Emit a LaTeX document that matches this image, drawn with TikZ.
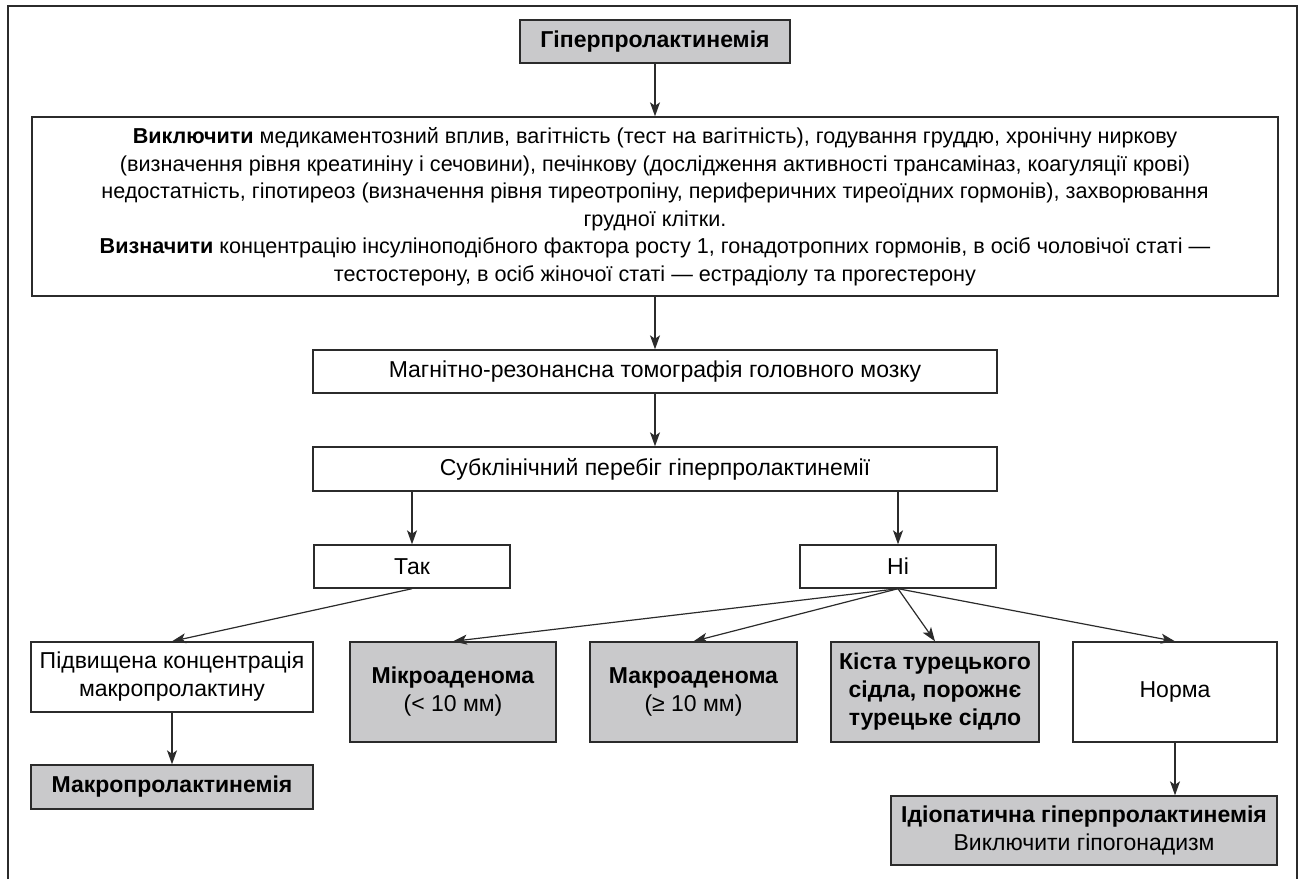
\documentclass[tikz,border=0pt]{standalone}
\usepackage{fontspec}
\setmainfont{Liberation Sans}
\usetikzlibrary{arrows.meta}
\definecolor{linec}{HTML}{2B2B2B}
\definecolor{boxgray}{HTML}{C9C9CB}
\begin{document}
\begin{tikzpicture}[x=1pt,y=1pt,
  box/.style={draw=linec, line width=1.4pt, fill=white, align=center, inner sep=0pt,
    font=\fontsize{23}{28}\selectfont},
  gbox/.style={box, fill=boxgray},
  arr/.style={draw=linec, line width=1.2pt, -{Stealth[length=14pt,width=10pt,inset=3.5pt]}},
  frame/.style={draw=linec, line width=2pt}]
\useasboundingbox (0,0) rectangle (1303,-879);
\draw[frame] (8,-879) -- (8,-6) -- (1297,-6) -- (1297,-879);

\node[gbox, minimum width=270pt, minimum height=43pt] (top) at (655,-41.5) {\textbf{Гіперпролактинемія}};
\node[box, minimum width=1246pt, minimum height=179pt, font=\fontsize{21.6}{27.5}\selectfont] (big) at (655,-206.5)
 {\textbf{Виключити} медикаментозний вплив, вагітність (тест на вагітність), годування груддю, хронічну ниркову\\
 (визначення рівня креатиніну і сечовини), печінкову (дослідження активності трансаміназ, коагуляції крові)\\
 недостатність, гіпотиреоз (визначення рівня тиреотропіну, периферичних тиреоїдних гормонів), захворювання\\
 грудної клітки.\\
 \textbf{Визначити} концентрацію інсуліноподібного фактора росту 1, гонадотропних гормонів, в осіб чоловічої статі —\\
 тестостерону, в осіб жіночої статі — естрадіолу та прогестерону};
\node[box, minimum width=684pt, minimum height=43pt] (mri) at (655,-371.5) {Магнітно-резонансна томографія головного мозку};
\node[box, minimum width=684pt, minimum height=44pt] (sub) at (655,-469) {Субклінічний перебіг гіперпролактинемії};
\node[box, minimum width=196pt, minimum height=43pt] (tak) at (412,-566.5) {Так};
\node[box, minimum width=196pt, minimum height=43pt] (ni) at (898,-566.5) {Ні};
\node[box, minimum width=282pt, minimum height=70pt] (pidv) at (172,-677) {Підвищена концентрація\\макропролактину};
\node[gbox, minimum width=206pt, minimum height=100pt] (micro) at (453,-692) {\textbf{Мікроаденома}\\(< 10 мм)};
\node[gbox, minimum width=207pt, minimum height=100pt] (macro) at (693.5,-692) {\textbf{Макроаденома}\\(≥ 10 мм)};
\node[gbox, minimum width=208pt, minimum height=100pt] (kista) at (935,-692) {\textbf{Кіста турецького}\\\textbf{сідла, порожнє}\\\textbf{турецьке сідло}};
\node[box, minimum width=204pt, minimum height=100pt] (norma) at (1175,-692) {Норма};
\node[gbox, minimum width=282pt, minimum height=44pt] (makro) at (172,-787) {\textbf{Макропролактинемія}};
\node[gbox, minimum width=386pt, minimum height=69pt] (idio) at (1084,-830.5) {\textbf{Ідіопатична гіперпролактинемія}\\Виключити гіпогонадизм};

\draw[arr] (top) -- (big);
\draw[arr] (big) -- (mri);
\draw[arr] (mri) -- (sub);
\draw[arr] (tak.north |- sub.south) -- (tak.north);
\draw[arr] (ni.north |- sub.south) -- (ni.north);
\draw[arr] (tak.south) -- (pidv.north);
\draw[arr] (ni.south) -- (micro.north);
\draw[arr] (ni.south) -- (macro.north);
\draw[arr] (ni.south) -- (kista.north);
\draw[arr] (ni.south) -- (norma.north);
\draw[arr] (pidv) -- (makro);
\draw[arr] (norma.south) -- (norma.south |- idio.north);
\end{tikzpicture}
\end{document}
